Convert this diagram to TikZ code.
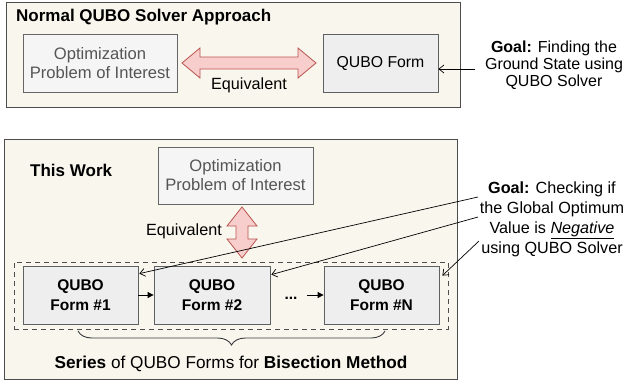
\documentclass[tikz,border=0pt]{standalone}
\usepackage{fontspec}
\setmainfont{Liberation Sans}
\usetikzlibrary{arrows.meta,decorations.pathreplacing}
\definecolor{outerfill}{HTML}{F9F7ED}
\definecolor{outerline}{HTML}{4D4D4D}
\definecolor{optfill}{HTML}{F5F5F5}
\definecolor{optline}{HTML}{666666}
\definecolor{optfont}{HTML}{555555}
\definecolor{qfill}{HTML}{EEEEEE}
\definecolor{qline}{HTML}{36393D}
\definecolor{redfill}{HTML}{F8CECC}
\definecolor{redline}{HTML}{B85450}
\tikzset{
  outerbox/.style={draw=outerline, fill=outerfill, line width=0.9pt, inner sep=0pt},
  optbox/.style={draw=optline, fill=optfill, line width=0.8pt, text=optfont, align=center, inner sep=0pt,
    font=\fontsize{16.6}{19}\selectfont},
  qbox/.style={draw=qline!80, fill=qfill, line width=0.8pt, align=center, inner sep=0pt,
    font=\fontsize{15.8}{18}\selectfont},
  boldq/.style={qbox, font=\bfseries\fontsize{15.5}{20}\selectfont},
  titletext/.style={anchor=west, font=\bfseries\fontsize{17}{19}\selectfont, inner sep=0pt},
  plain/.style={font=\fontsize{16.2}{17}\selectfont, inner sep=0pt, align=center},
  bigarrow/.style={draw=redline, fill=redfill, line width=0.8pt},
  goalarrow/.style={-{Straight Barb[length=5pt,width=8pt]}, line width=0.7pt},
  chainarrow/.style={-{Triangle[length=6pt,width=6pt]}, line width=0.8pt},
}
\begin{document}
\begin{tikzpicture}[x=1pt,y=-1pt]
\useasboundingbox (0,0) rectangle (626,384);
% ---------- top panel ----------
\node[outerbox, minimum width=454, minimum height=105] (top) at (233,54.5) {};
\node[titletext] (title1) at (16,17) {Normal QUBO Solver Approach};
\node[optbox, minimum width=154, minimum height=58] (opt1) at (100,63) {Optimization\\Problem of Interest};
\node[qbox, minimum width=115, minimum height=58] (qubo1) at (380.5,63) {QUBO Form};
\draw[bigarrow] (182,63) -- (200,48) -- (200,57) -- (298,57) -- (298,48) -- (316,63)
  -- (298,78) -- (298,69) -- (200,69) -- (200,78) -- cycle;
\node[plain] (eq1) at (249,85) {Equivalent};
\node[plain, font=\fontsize{16}{17}\selectfont] (goal1) at (554,65)
  {\textbf{Goal:} Finding the\\Ground State using\\QUBO Solver};
\coordinate (g1) at (475,69);
\draw[goalarrow] (g1) -- (g1 -| qubo1.east);
% ---------- bottom panel ----------
\node[outerbox, minimum width=453, minimum height=240] (bot) at (230.5,259) {};
\node[titletext] (title2) at (30,170) {This Work};
\node[optbox, minimum width=155, minimum height=57] (opt2) at (235.5,175.5) {Optimization\\Problem of Interest};
\draw[bigarrow] (242,207) -- (257,226) -- (248,226) -- (248,239) -- (257,239) -- (242,258)
  -- (227,239) -- (236,239) -- (236,226) -- (227,226) -- cycle;
\node[plain] (eq2) at (184,231) {Equivalent};
\node[draw=outerline, dash pattern=on 5pt off 4pt, line width=0.8pt, minimum width=434, minimum height=67, inner sep=0pt] (series) at (231,295.5) {};
\node[boldq, minimum width=115, minimum height=58] (f1) at (80.5,295) {QUBO\\Form \#1};
\node[boldq, minimum width=116, minimum height=58] (f2) at (212,295) {QUBO\\Form \#2};
\node[boldq, minimum width=115, minimum height=58] (fn) at (381.5,295) {QUBO\\Form \#N};
\draw[chainarrow] (f1.east) -- (f2.west);
\node[anchor=base, inner sep=0pt, font=\bfseries\fontsize{15.5}{17}\selectfont] (dots) at (291,299) {...};
\coordinate (dotsend) at (307,295);
\draw[chainarrow] (dotsend) -- (fn.west);
\draw[line width=0.9pt, draw=qline, decorate, decoration={brace, mirror, amplitude=14pt, aspect=0.5}]
  (78,331) -- (385,331) coordinate[pos=0.5] (bracemid);
\node[plain, font=\fontsize{17.2}{19}\selectfont] (seriestext) at (231,364) {\textbf{Series} of QUBO Forms for \textbf{Bisection Method}};
\node[plain, font=\fontsize{16.2}{20}\selectfont] (goal2) at (552,219)
  {\textbf{Goal:} Checking if\\the Global Optimum\\Value is \underline{\textit{Negative}}\\using QUBO Solver};
\coordinate (g2a) at (478,197);
\coordinate (g2b) at (478,217);
\coordinate (g2c) at (479,241);
\draw[goalarrow] (g2a) -- ([xshift=1pt,yshift=-8pt]f1.north east);
\draw[goalarrow] (g2b) -- ([xshift=1pt,yshift=-9pt]f2.north east);
\draw[goalarrow] (g2c) -- ([xshift=3pt,yshift=-10pt]fn.north east);
\end{tikzpicture}
\end{document}
